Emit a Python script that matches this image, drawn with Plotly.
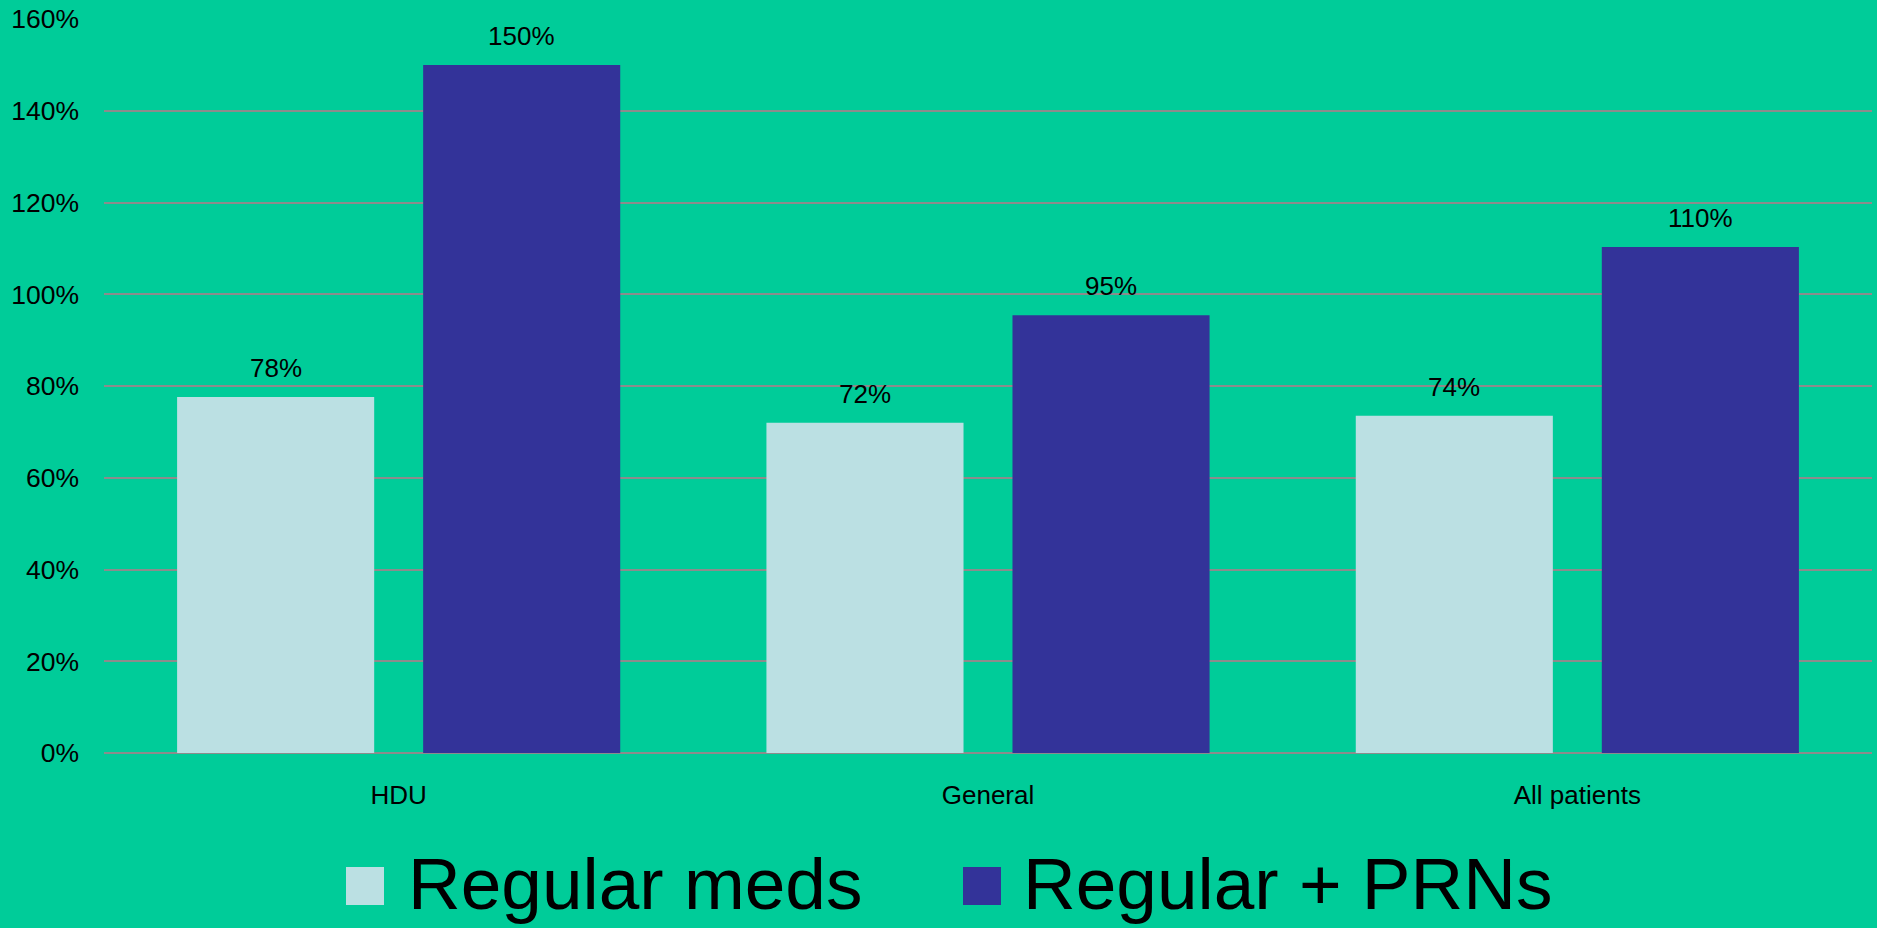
import plotly.graph_objects as go

categories = ["HDU", "General", "All patients"]
regular_meds = [0.776, 0.720, 0.735]
regular_prns = [1.500, 0.954, 1.103]
series_names = ["Regular meds", "Regular + PRNs"]
y_tick_vals = [0, 0.2, 0.4, 0.6, 0.8, 1.0, 1.2, 1.4, 1.6]
y_tick_text = ["0%", "20%", "40%", "60%", "80%", "100%", "120%", "140%", "160%"]

BG = "#00CC99"
COLORS = ["#BBE0E3", "#333399"]
FONT = "Liberation Sans, Arial, sans-serif"

W, H = 1877, 928
ML, MR, MT, MB = 104, 5, 19, 175
BARGAP, GROUPGAP = 0.165, 0.199

pw = W - ML - MR
ph = H - MT - MB

fig = go.Figure()
series = [regular_meds, regular_prns]
for name, vals, col in zip(series_names, series, COLORS):
    fig.add_trace(go.Bar(
        x=categories, y=vals, name=name,
        marker=dict(color=col, line=dict(width=0)),
        showlegend=False,
    ))

# value labels above bars
cat_px = pw / len(categories)
slot_px = (1 - BARGAP) * cat_px / len(series)
for i, vals in enumerate(series):
    offset = (i - (len(series) - 1) / 2) * slot_px
    for c, v in zip(categories, vals):
        fig.add_annotation(
            x=c, y=v, xref="x", yref="y", xshift=offset, yshift=12,
            text=f"{round(v * 100)}%", showarrow=False,
            xanchor="center", yanchor="bottom",
            font=dict(family=FONT, size=26, color="black"),
        )

fig.update_layout(
    width=W, height=H,
    margin=dict(l=ML, r=MR, t=MT, b=MB, pad=0),
    paper_bgcolor=BG, plot_bgcolor=BG,
    barmode="group", bargap=BARGAP, bargroupgap=GROUPGAP,
    font=dict(family=FONT, size=26, color="black"),
)
fig.update_xaxes(
    showgrid=False, showline=False, zeroline=False,
    ticks="", ticklabelstandoff=24,
    tickfont=dict(family=FONT, size=26, color="black"),
)
fig.update_yaxes(
    range=[0, 1.6], tickvals=y_tick_vals, ticktext=y_tick_text,
    showgrid=True, gridcolor="#8C8C8C", gridwidth=2,
    zeroline=True, zerolinecolor="#8C8C8C", zerolinewidth=2,
    showline=False, ticks="", ticklabelstandoff=24,
    tickfont=dict(family=FONT, size=26.5, color="black"),
)

# Custom legend with large swatches
def px_to_paper(xp, yp):
    return (xp - ML) / pw, (H - MB - yp) / ph

legend_items = [(346, 406), (963, 1021)]
sq = 38
cy = 886
for (sx, tx), name, col in zip(legend_items, series_names, COLORS):
    x0, y0 = px_to_paper(sx, cy + sq / 2)
    x1, y1 = px_to_paper(sx + sq, cy - sq / 2)
    fig.add_shape(type="rect", xref="paper", yref="paper",
                  x0=x0, x1=x1, y0=y0, y1=y1,
                  fillcolor=col, line=dict(width=0), layer="above")
    ax, ay = px_to_paper(tx, H - 2)
    fig.add_annotation(xref="paper", yref="paper", x=ax, y=ay,
                       text=name, showarrow=False, xanchor="left", yanchor="bottom",
                       font=dict(family=FONT, size=73, color="black"))

fig.write_html("out.html")
